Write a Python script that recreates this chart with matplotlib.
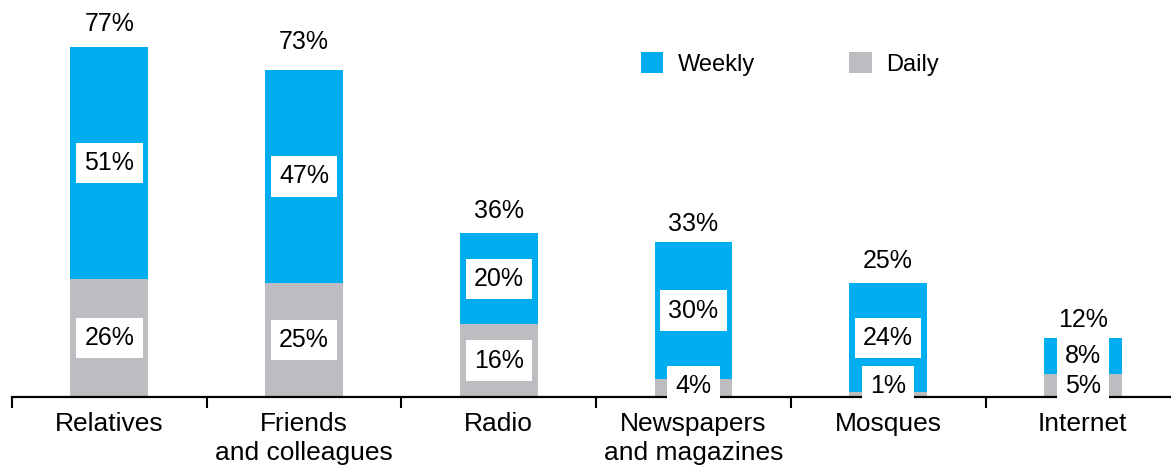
import matplotlib
matplotlib.use("Agg")
import matplotlib.pyplot as plt
from matplotlib.patches import Patch

categories = ["Relatives", "Friends\nand colleagues", "Radio",
              "Newspapers\nand magazines", "Mosques", "Internet"]
daily = [26, 25, 16, 4, 1, 5]
weekly = [51, 47, 20, 30, 24, 8]
total = [77, 73, 36, 33, 25, 12]

BLUE = "#00AEEF"
GRAY = "#BCBDC0"

plt.rcParams["font.family"] = ["Liberation Sans", "DejaVu Sans"]
FS = 18

W, H = 1171, 465
fig = plt.figure(figsize=(W / 100, H / 100), dpi=100)
ax = fig.add_axes([12 / W, 68 / H, 1 - 12 / W, 397 / H])

x = list(range(len(categories)))
bw = 0.4
ax.bar(x, daily, width=bw, color=GRAY, zorder=2)
ax.bar(x, weekly, width=bw, bottom=daily, color=BLUE, zorder=2)

box = dict(boxstyle="square,pad=0.33", facecolor="white", edgecolor="none")
for i in x:
    yw = daily[i] + weekly[i] / 2
    ax.text(i, yw, f"{weekly[i]}%", ha="center", va="center", fontsize=FS,
            bbox=box, zorder=4)
    yd = max(daily[i] / 2, 2.4)
    ax.text(i, yd, f"{daily[i]}%", ha="center", va="center", fontsize=FS,
            bbox=box, zorder=5)
    ax.text(i, total[i] + 5.0, f"{total[i]}%", ha="center", va="center",
            fontsize=FS, zorder=4)

# boundary ticks between categories, labels at category centres
ax.set_xticks([i - 0.5 for i in range(len(categories) + 1)])
ax.set_xticklabels([])
ax.tick_params(axis="x", which="major", direction="out", length=8,
               width=1.5, color="black")
ax.set_xticks(x, minor=True)
ax.set_xticklabels(categories, minor=True, fontsize=19, linespacing=1.25)
ax.tick_params(axis="x", which="minor", length=0, pad=11)

ax.set_xlim(-0.5, -0.5 + (W - 12) / 194.7)
ax.set_ylim(0, 87.3)

ax.set_yticks([])
for s in ("left", "top", "right"):
    ax.spines[s].set_visible(False)
ax.spines["bottom"].set_linewidth(1.6)
ax.spines["bottom"].set_zorder(3)

handles = [Patch(facecolor=BLUE, edgecolor="none", label="Weekly"),
           Patch(facecolor=GRAY, edgecolor="none", label="Daily")]
ax.legend(handles=handles, ncol=2, frameon=False, fontsize=17,
          handlelength=0.95, handleheight=0.95, handletextpad=0.6,
          columnspacing=4.0, loc="center left",
          bbox_to_anchor=(641 / W, 1 - 64 / H), bbox_transform=fig.transFigure,
          borderaxespad=0, borderpad=0)

fig.savefig("out.png", dpi=100)
